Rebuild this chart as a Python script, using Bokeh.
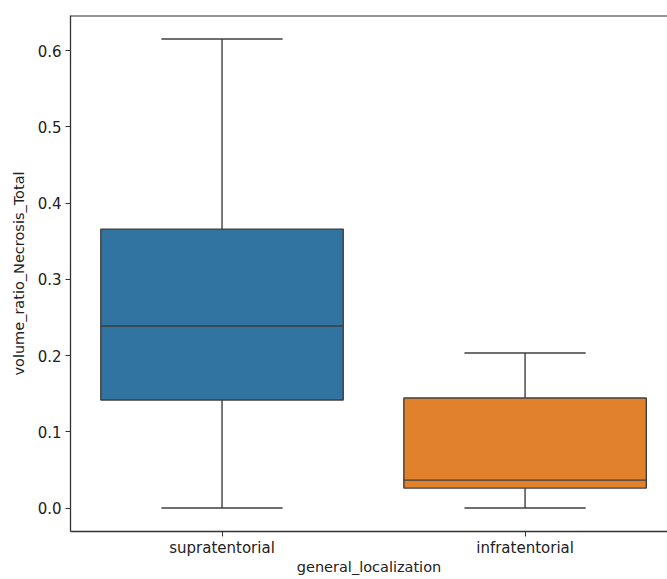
from bokeh.plotting import figure
from bokeh.models import FixedTicker, PrintfTickFormatter, Span, Range1d, ColumnDataSource
from bokeh.embed import file_html
from bokeh.resources import INLINE

# Box statistics per localization group
categories = ["supratentorial", "infratentorial"]
whisker_low = [0.0, 0.0]
q1 = [0.1417, 0.0262]
median = [0.2388, 0.0367]
q3 = [0.3660, 0.1444]
whisker_high = [0.6155, 0.2034]
colors = ["#3274a1", "#e1812c"]
y_ticks = [0.0, 0.1, 0.2, 0.3, 0.4, 0.5, 0.6]

LINE = "#3f3f3f"
FONT = "DejaVu Sans"
TEXT = "#222222"

x = list(range(len(categories)))
box_w = 0.8
cap_w = 0.4

src = ColumnDataSource(dict(
    x=x, lo=whisker_low, q1=q1, med=median, q3=q3, hi=whisker_high, color=colors,
    bl=[v - box_w / 2 for v in x], br=[v + box_w / 2 for v in x],
    cl=[v - cap_w / 2 for v in x], cr=[v + cap_w / 2 for v in x],
))

span_y = max(whisker_high) - min(whisker_low)
y0 = min(whisker_low) - 0.05 * span_y
y1 = max(whisker_high) + 0.05 * span_y

p = figure(width=667, height=579, output_backend="svg", toolbar_location=None,
           x_range=Range1d(-0.5, 1.47), y_range=Range1d(y0, y1),
           min_border_left=70, min_border_right=0, min_border_top=15, min_border_bottom=48)
p.background_fill_color = "white"
p.border_fill_color = "white"
p.grid.visible = False
p.outline_line_color = None

# whiskers
p.segment(x0="x", y0="lo", x1="x", y1="q1", source=src, line_color=LINE, line_width=1.4)
p.segment(x0="x", y0="q3", x1="x", y1="hi", source=src, line_color=LINE, line_width=1.4)
p.segment(x0="cl", y0="lo", x1="cr", y1="lo", source=src, line_color=LINE, line_width=1.4)
p.segment(x0="cl", y0="hi", x1="cr", y1="hi", source=src, line_color=LINE, line_width=1.4)
# boxes
p.vbar(x="x", width=box_w, bottom="q1", top="q3", source=src, fill_color="color",
       line_color=LINE, line_width=1.4)
# medians
p.segment(x0="bl", y0="med", x1="br", y1="med", source=src, line_color=LINE, line_width=1.4)

# top frame edge
p.add_layout(Span(location=y1, dimension="width", line_color="#333333", line_width=1.8))

for ax in (p.xaxis[0], p.yaxis[0]):
    ax.axis_line_color = "#333333"
    ax.axis_line_width = 1.3
    ax.major_tick_line_color = "#333333"
    ax.major_tick_in = 0
    ax.major_tick_out = 5
    ax.minor_tick_line_color = None
    ax.major_label_text_font = FONT
    ax.major_label_text_font_size = "15px"
    ax.major_label_text_color = TEXT
    ax.axis_label_text_font = FONT
    ax.axis_label_text_font_size = "14.5px"
    ax.axis_label_text_font_style = "normal"
    ax.axis_label_text_color = TEXT

p.xaxis.ticker = FixedTicker(ticks=x)
p.xaxis.major_label_overrides = {i: c for i, c in enumerate(categories)}
p.xaxis.axis_label = "general_localization"
p.xaxis.axis_label_standoff = -1
p.xaxis.major_label_standoff = 2

p.yaxis.ticker = FixedTicker(ticks=y_ticks)
p.yaxis.formatter = PrintfTickFormatter(format="%.1f")
p.yaxis.axis_label = "volume_ratio_Necrosis_Total"
p.yaxis.axis_label_standoff = 8
p.yaxis.major_label_standoff = 4

open("out.html", "w").write(file_html(p, INLINE))
